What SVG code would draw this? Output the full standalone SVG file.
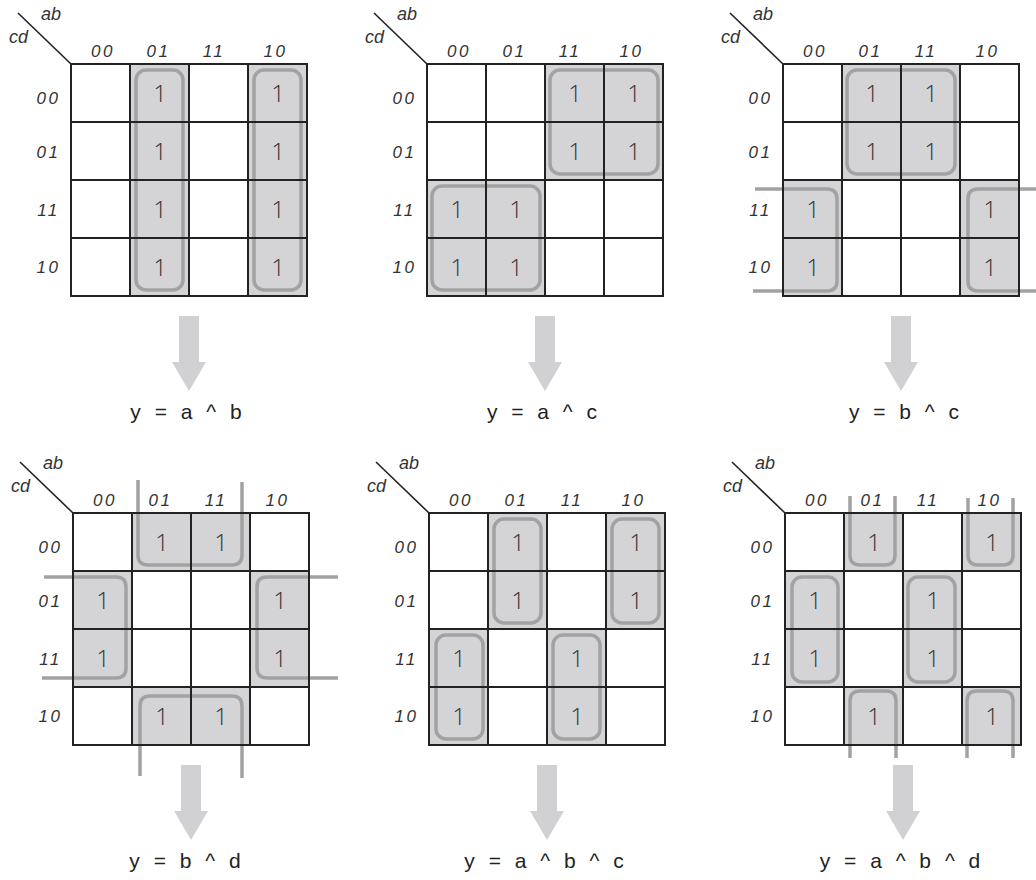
<svg xmlns="http://www.w3.org/2000/svg" xmlns:xlink="http://www.w3.org/1999/xlink" width="1036" height="880" viewBox="0 0 1036 880">
<style>
.shade{fill:#d4d4d6;stroke:none}
.grid{fill:none;stroke:#222;stroke-width:2}
.loop{fill:none;stroke:#a2a2a4;stroke-width:3.5;stroke-linecap:butt}
.lbl{font-family:"Liberation Sans",Arial,sans-serif;font-style:italic;font-size:17px;letter-spacing:2.5px;fill:#333;text-anchor:middle}
.var{font-family:"Liberation Sans",Arial,sans-serif;font-style:italic;font-size:18px;fill:#333}
.one{font-family:"Open Sans","Liberation Sans",sans-serif;font-weight:300;font-size:24px;fill:#333;text-anchor:middle}
.expr{font-family:"Liberation Sans",Arial,sans-serif;font-size:21px;letter-spacing:4px;fill:#222;text-anchor:middle}
.arrow{fill:#d1d1d3}
</style>
<defs>
<g id="gridlines">
<rect class="grid" x="0" y="0" width="236" height="232"/>
<path class="grid" d="M59,0V232M118,0V232M177,0V232M0,58H236M0,116H236M0,174H236"/>
</g>
<g id="labels">
<line x1="-53" y1="-51" x2="0" y2="0" stroke="#222" stroke-width="1.6"/>
<text class="var" x="-30" y="-44">ab</text>
<text class="var" x="-62" y="-21">cd</text>
<text class="lbl" x="32" y="-7">00</text>
<text class="lbl" x="87.5" y="-7">01</text>
<text class="lbl" x="143" y="-7">11</text>
<text class="lbl" x="204.5" y="-7">10</text>
<text class="lbl" x="-22.5" y="40">00</text>
<text class="lbl" x="-22.5" y="94">01</text>
<text class="lbl" x="-22.5" y="152">11</text>
<text class="lbl" x="-22.5" y="209">10</text>
</g>
</defs>

<g id="map1" transform="translate(71,64)">
<rect class="shade" x="59" y="0" width="59" height="232"/>
<rect class="shade" x="177" y="0" width="59" height="232"/>
<rect class="loop" x="65" y="6" width="47" height="220" rx="10"/>
<rect class="loop" x="183" y="6" width="47" height="220" rx="10"/>
<use xlink:href="#gridlines"/>
<use xlink:href="#labels"/>
<text class="one" x="89" y="38">1</text><text class="one" x="89" y="96">1</text><text class="one" x="89" y="154">1</text><text class="one" x="89" y="212">1</text>
<text class="one" x="207" y="38">1</text><text class="one" x="207" y="96">1</text><text class="one" x="207" y="154">1</text><text class="one" x="207" y="212">1</text>
</g>

<g id="map2" transform="translate(427,64)">
<rect class="shade" x="118" y="0" width="118" height="116"/>
<rect class="shade" x="0" y="116" width="118" height="116"/>
<rect class="loop" x="123" y="6" width="108" height="104" rx="10"/>
<rect class="loop" x="5" y="122" width="108" height="104" rx="10"/>
<use xlink:href="#gridlines"/>
<use xlink:href="#labels"/>
<text class="one" x="148" y="38">1</text><text class="one" x="207" y="38">1</text>
<text class="one" x="148" y="96">1</text><text class="one" x="207" y="96">1</text>
<text class="one" x="30" y="154">1</text><text class="one" x="89" y="154">1</text>
<text class="one" x="30" y="212">1</text><text class="one" x="89" y="212">1</text>
</g>

<g id="map3" transform="translate(783,64)">
<rect class="shade" x="59" y="0" width="118" height="116"/>
<rect class="shade" x="0" y="116" width="59" height="116"/>
<rect class="shade" x="177" y="116" width="59" height="116"/>
<rect class="loop" x="64" y="6" width="108" height="104" rx="10"/>
<path class="loop" d="M-28,125H44Q54,125 54,135V217Q54,227 44,227H-30"/>
<path class="loop" d="M255,125H195Q185,125 185,135V217Q185,227 195,227H255"/>
<use xlink:href="#gridlines"/>
<use xlink:href="#labels"/>
<text class="one" x="89" y="38">1</text><text class="one" x="148" y="38">1</text>
<text class="one" x="89" y="96">1</text><text class="one" x="148" y="96">1</text>
<text class="one" x="30" y="154">1</text><text class="one" x="207" y="154">1</text>
<text class="one" x="30" y="212">1</text><text class="one" x="207" y="212">1</text>
</g>

<g id="map4" transform="translate(73,513)">
<rect class="shade" x="59" y="0" width="118" height="58"/>
<rect class="shade" x="0" y="58" width="59" height="116"/>
<rect class="shade" x="177" y="58" width="59" height="116"/>
<rect class="shade" x="59" y="174" width="118" height="58"/>
<path class="loop" d="M65,-33V42Q65,52 75,52H159Q169,52 169,42V-31"/>
<path class="loop" d="M-29,64H43Q53,64 53,74V155Q53,165 43,165H-31"/>
<path class="loop" d="M265,64H194Q184,64 184,74V155Q184,165 194,165H265"/>
<path class="loop" d="M67,263V193Q67,183 77,183H159Q169,183 169,193V265"/>
<use xlink:href="#gridlines"/>
<use xlink:href="#labels"/>
<text class="one" x="89" y="38">1</text><text class="one" x="148" y="38">1</text>
<text class="one" x="30" y="96">1</text><text class="one" x="207" y="96">1</text>
<text class="one" x="30" y="154">1</text><text class="one" x="207" y="154">1</text>
<text class="one" x="89" y="212">1</text><text class="one" x="148" y="212">1</text>
</g>

<g id="map5" transform="translate(429,513)">
<rect class="shade" x="59" y="0" width="59" height="116"/>
<rect class="shade" x="177" y="0" width="59" height="116"/>
<rect class="shade" x="0" y="116" width="59" height="116"/>
<rect class="shade" x="118" y="116" width="59" height="116"/>
<rect class="loop" x="65" y="6" width="47" height="104" rx="10"/>
<rect class="loop" x="183" y="6" width="47" height="104" rx="10"/>
<rect class="loop" x="7" y="122" width="47" height="104" rx="10"/>
<rect class="loop" x="124" y="122" width="47" height="104" rx="10"/>
<use xlink:href="#gridlines"/>
<use xlink:href="#labels"/>
<text class="one" x="89" y="38">1</text><text class="one" x="207" y="38">1</text>
<text class="one" x="89" y="96">1</text><text class="one" x="207" y="96">1</text>
<text class="one" x="30" y="154">1</text><text class="one" x="148" y="154">1</text>
<text class="one" x="30" y="212">1</text><text class="one" x="148" y="212">1</text>
</g>

<g id="map6" transform="translate(785,513)">
<rect class="shade" x="59" y="0" width="59" height="58"/>
<rect class="shade" x="177" y="0" width="59" height="58"/>
<rect class="shade" x="0" y="58" width="59" height="116"/>
<rect class="shade" x="118" y="58" width="59" height="116"/>
<rect class="shade" x="59" y="174" width="59" height="58"/>
<rect class="shade" x="177" y="174" width="59" height="58"/>
<path class="loop" d="M65,-17V42Q65,52 75,52H100Q110,52 110,42V-17"/>
<path class="loop" d="M183,-15V42Q183,52 193,52H218Q228,52 228,42V-15"/>
<rect class="loop" x="7" y="64" width="46" height="105" rx="10"/>
<rect class="loop" x="123" y="64" width="47" height="105" rx="10"/>
<path class="loop" d="M65,245V188Q65,178 75,178H101Q111,178 111,188V245"/>
<path class="loop" d="M182,245V188Q182,178 192,178H218Q228,178 228,188V245"/>
<use xlink:href="#gridlines"/>
<use xlink:href="#labels"/>
<text class="one" x="89" y="38">1</text><text class="one" x="207" y="38">1</text>
<text class="one" x="30" y="96">1</text><text class="one" x="148" y="96">1</text>
<text class="one" x="30" y="154">1</text><text class="one" x="148" y="154">1</text>
<text class="one" x="89" y="212">1</text><text class="one" x="207" y="212">1</text>
</g>

<g id="connectors">
<polygon class="arrow" transform="translate(71,64)" points="108,252 128,252 128,298 135,298 118,327 101,298 108,298"/>
<polygon class="arrow" transform="translate(427,64)" points="108,252 128,252 128,298 135,298 118,327 101,298 108,298"/>
<polygon class="arrow" transform="translate(783,64)" points="108,252 128,252 128,298 135,298 118,327 101,298 108,298"/>
<polygon class="arrow" transform="translate(73,513)" points="108,252 128,252 128,298 135,298 118,327 101,298 108,298"/>
<polygon class="arrow" transform="translate(429,513)" points="108,252 128,252 128,298 135,298 118,327 101,298 108,298"/>
<polygon class="arrow" transform="translate(785,513)" points="108,252 128,252 128,298 135,298 118,327 101,298 108,298"/>
</g>

<g id="expr1"><text class="expr" x="188" y="419">y = a ^ b</text></g>
<g id="expr2"><text class="expr" x="544" y="419">y = a ^ c</text></g>
<g id="expr3"><text class="expr" x="906" y="419">y = b ^ c</text></g>
<g id="expr4"><text class="expr" x="187" y="868">y = b ^ d</text></g>
<g id="expr5"><text class="expr" x="546" y="868">y = a ^ b ^ c</text></g>
<g id="expr6"><text class="expr" x="902" y="868">y = a ^ b ^ d</text></g>
</svg>
